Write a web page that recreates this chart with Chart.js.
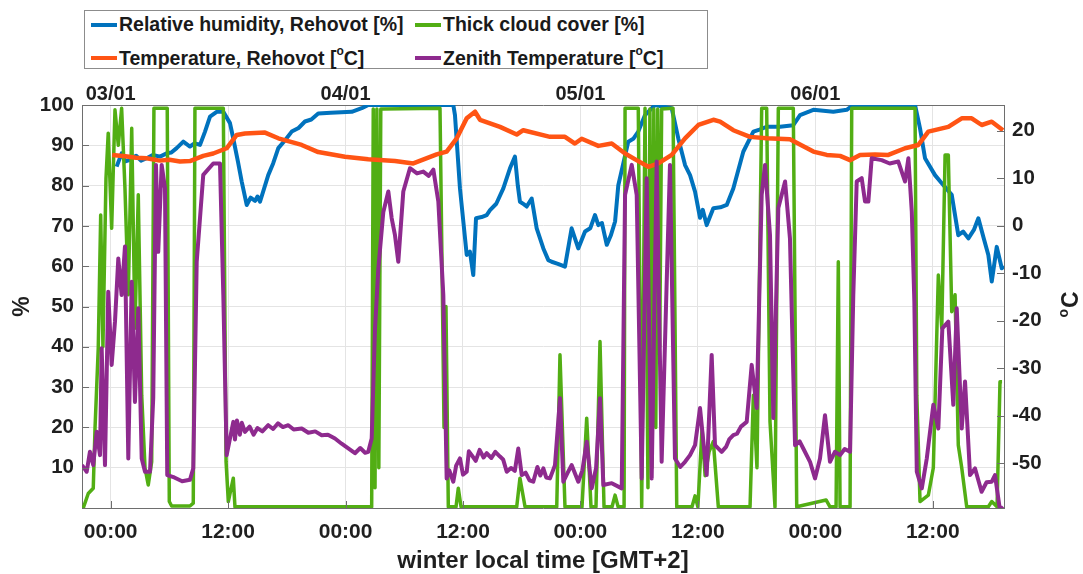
<!DOCTYPE html>
<html lang="en">
<head>
<meta charset="UTF-8">
<title>Relative humidity, cloud cover and temperature - Rehovot</title>
<script src="https://cdn.jsdelivr.net/npm/chart.js"></script>
<style>
  html, body { margin: 0; padding: 0; background: #fff; }
  #wrap { position: relative; width: 1083px; height: 574px; }
  #legend {
    position: absolute; left: 84px; top: 10px; width: 622px; height: 57px;
    border: 1px solid #8c8c8c; background: #fff;
    font: bold 19.5px "Liberation Sans", Arial, sans-serif; color: #1a1a1a;
  }
  .item { position: absolute; display: flex; align-items: center; white-space: nowrap; line-height: 1; }
  .swatch { display: inline-block; width: 26px; height: 4px; margin-right: 2px; }
  .item sup { font-size: 12px; position: relative; top: -2px; }
</style>
</head>
<body>
<div id="wrap">
  <canvas id="chart" width="1083" height="574"></canvas>
  <div id="legend"></div>
</div>

<script>
  // hours counted from 03/01 00:00 (GMT+2)
  const xTickHours = [0, 12, 24, 36, 48, 60, 72, 84];
  const xTickLabels = ["00:00", "12:00", "00:00", "12:00", "00:00", "12:00", "00:00", "12:00"];
  const dayHours = [0, 24, 48, 72];
  const dayLabels = ["03/01", "04/01", "05/01", "06/01"];
  const pctTicks = [10, 20, 30, 40, 50, 60, 70, 80, 90, 100];
  const degTicks = [-50, -40, -30, -20, -10, 0, 10, 20];

  // [hour, %]
  const humidity = [
    [0.61,84.7],[1.12,88.0],[1.5,86.0],[1.97,86.4],[2.6,87.4],[3.1,86.2],[3.68,86.8],[4.3,87.6],[5.04,87.2],
    [5.72,88.0],[6.2,88.2],[6.74,89.3],[7.42,90.9],[8.10,89.7],[8.6,90.5],[9.13,90.1],[9.64,93.4],
    [10.15,97.1],[10.83,98.3],[11.51,98.3],[12.19,95.5],[12.5,92],[13.0,86],[13.39,81.0],[13.90,75.2],
    [14.3,77.0],[14.75,76.2],[15.0,77.3],[15.26,76.0],[16.10,82.6],[16.6,85.5],[17.13,89.3],[17.8,91.2],
    [18.50,93.4],[19.2,94.3],[19.85,95.9],[20.5,96.4],[21.21,97.9],[22.5,98.1],[24.63,98.3],[25.65,99.2],
    [26.32,100],[35.01,100],[35.18,97.5],[35.69,79.3],[36.38,62.8],[36.71,63.6],[37.05,57.8],[37.33,71.9],
    [37.9,72.2],[38.42,72.7],[38.76,73.9],[39.4,75.5],[40.12,79.3],[40.80,84.3],[41.31,87.2],[41.6,80.0],
    [41.82,76.0],[42.2,75.4],[42.51,74.8],[43.02,76.8],[43.53,69.4],[44.21,64.4],[44.72,61.5],[45.06,61.1],
    [45.7,60.6],[46.42,59.9],[47.10,69.4],[47.78,64.4],[48.47,68.6],[49.0,69.4],[49.49,72.7],[49.83,70.2],
    [50.2,70.7],[50.69,65.3],[51.1,67.6],[51.54,71.1],[51.87,80.1],[52.89,90.9],[53.4,91.6],[53.91,93.4],
    [54.60,97.5],[55.62,100],[57.33,99.2],[58.00,91.7],[58.69,85.1],[59.2,82.6],[59.71,78.5],[60.22,72],
    [60.5,74.0],[60.90,70.2],[61.58,74.4],[62.3,74.6],[62.95,75.2],[63.62,79.3],[64.64,88.4],[65.67,93.4],
    [66.3,93.9],[67.03,94.6],[68.4,94.6],[69.75,95.0],[70.44,97.5],[71.80,98.8],[73.84,98.3],[75.21,98.8],
    [75.88,100],[82.19,100],[82.70,94.2],[83.21,86.8],[84.23,82.6],[84.92,80.6],[85.94,77.7],[86.61,67.7],
    [87.1,68.6],[87.64,66.9],[88.2,69.0],[88.66,71.9],[89.2,67.0],[89.68,62.8],[90.03,56.2],[90.54,64.8],
    [91.05,59.5],[91.28,60]
  ];

  // [hour, %]
  const cloudCover = [
    [-2.80,0],[-2.29,3.6],[-1.78,4.9],[-1.60,19.8],[-1.27,39.6],[-1.02,72.7],[-0.79,40],[-0.48,81.8],
    [-0.25,93.0],[0.10,69.4],[0.44,98.8],[0.78,90],[1.12,99.2],[1.46,79.3],[1.80,52.9],[2.15,94.2],
    [2.48,44.6],[2.82,77.7],[3.17,28.0],[3.51,9.9],[3.84,5.7],[4.19,11.5],[4.42,99.2],[5.78,99.2],
    [5.99,1.6],[6.23,0.5],[8.10,0.5],[8.44,1.2],[8.61,99.2],[11.51,99.2],[11.79,11.5],[12.02,1.6],
    [12.53,7.4],[12.70,0.3],[26.67,0.3],[26.83,99],[27.01,5],[27.2,99],[27.4,10],[27.6,99],[27.8,99],
    [33.65,99.2],[33.86,60],[34.06,20],[34.26,50],[34.50,0.3],[35.29,0.3],[35.52,4.9],[35.80,0.3],
    [41.49,0.3],[41.82,7.4],[42.34,0.3],[45.58,0.3],[45.91,38.0],[46.42,0.3],[48.16,0.3],[48.64,22.3],
    [49.08,0.3],[49.59,0.3],[50.00,41.3],[50.41,0.3],[51.23,0.3],[51.54,3.2],[51.85,0.3],[52.46,0.3],
    [52.56,99.2],[53.91,99.2],[54.26,0.3],[54.60,99.2],[54.9,5],[55.1,99],[55.3,10],[55.5,99],[55.7,20],
    [55.9,99],[56.1,40],[56.3,99],[57.46,99.2],[57.84,0.3],[59.40,0.3],[59.71,3],[60.0,0.3],[60.43,19.8],
    [60.74,8],[61.15,14],[61.58,16.5],[62.09,0.3],[65.33,0.3],[65.67,28.0],[66.04,10],[66.52,99.2],
    [67.03,99.2],[67.37,21.4],[67.88,0.3],[68.22,99.2],[69.75,99.2],[70.10,0.3],[73.1,2],[73.5,0.3],
    [74.12,0.3],[74.35,61.1],[74.53,0.3],[75.55,0.3],[75.72,99.2],[82.19,99.2],[82.37,28.0],[82.70,1.6],
    [83.55,3.2],[84.06,10],[84.57,57.8],[84.92,44.6],[85.26,87.6],[85.59,87.6],[85.94,48.7],[86.28,52.9],
    [86.61,15.6],[86.96,10],[87.47,0.3],[89.68,0.3],[90.03,1.6],[90.57,0.3],[90.87,31.3],[91.08,31.3]
  ];

  // [hour, degC]
  const airTemp = [
    [0.16,14.9],[1.5,14.6],[2.6,14.3],[3.68,14.2],[5.0,13.7],[6.0,13.9],[7.08,13.5],[8.10,13.6],[9.46,14.7],
    [10.48,15.2],[11.85,16.3],[12.88,19.1],[13.72,19.4],[15.77,19.6],[17.13,18.4],[19.52,17.0],[21.21,15.5],
    [23.94,14.5],[26.32,14.0],[29.05,13.6],[30.92,13.1],[33.31,15.0],[34.33,15.6],[35.36,18.4],[36.38,22.6],
    [37.23,24.0],[37.74,22.3],[39.78,20.8],[41.49,19.2],[42.16,20.1],[44.89,18.7],[46.42,18.7],[47.44,17.3],
    [48.13,18.3],[49.83,16.8],[51.20,17.3],[52.56,15.2],[53.91,13.6],[54.94,12.4],[55.96,13.1],[57.33,14.9],
    [58.69,18.4],[60.05,21.2],[61.58,22.3],[62.27,21.9],[63.62,20.1],[65.33,18.7],[67.03,18.4],[69.41,18.2],
    [71.80,15.6],[73.17,14.9],[74.53,14.7],[75.55,13.8],[76.57,14.9],[78.10,15.0],[79.46,14.9],[81.17,16.3],
    [82.53,17.0],[83.55,19.8],[85.59,20.8],[86.96,22.6],[87.98,22.6],[89.00,21.2],[90.03,21.9],[91.18,20.1]
  ];

  // [hour, degC]
  const zenithTemp = [
    [-2.93,-50.4],[-2.45,-51.8],[-2.12,-47.6],[-1.78,-50.4],[-1.43,-43.4],[-1.09,-48.3],[-0.92,-25.8],
    [-0.58,-50.4],[-0.25,-13.9],[0.10,-29.3],[0.44,-20.2],[0.78,-6.9],[1.12,-14.6],[1.46,-4.4],[1.80,-49.0],
    [2.15,-11.8],[2.48,-37.1],[2.82,-17.4],[3.17,-49.0],[3.51,-51.8],[4.02,-51.8],[4.35,-36.2],[4.63,12.8],
    [4.86,-5.5],[5.21,12.8],[5.55,7.9],[5.78,-52.5],[6.5,-53.0],[7.3,-53.8],[8.10,-53.5],[8.44,-51.1],
    [8.79,-7.6],[9.46,10.7],[10.48,13.1],[11.17,13.1],[11.51,-14.6],[11.85,-48.3],[12.53,-41.3],[12.7,-45],
    [12.9,-41],[13.2,-44],[13.4,-41.5],[13.72,-43.4],[14.2,-42.3],[14.6,-44.0],[15.0,-42.6],[15.5,-43.3],
    [16.1,-42.0],[16.6,-42.8],[17.1,-41.6],[17.6,-42.4],[18.15,-42.0],[18.7,-42.9],[19.52,-42.7],[20.2,-43.6],
    [20.9,-43.3],[21.56,-44.1],[22.2,-44.0],[22.92,-44.8],[23.6,-45.9],[24.28,-46.9],[24.96,-47.9],[25.5,-46.8],
    [26.0,-47.8],[26.32,-47.6],[26.67,-44.8],[27.01,-21.6],[27.35,-9.0],[27.86,2.9],[28.37,7.2],[28.71,1.6],
    [29.05,-2.0],[29.39,-7.6],[29.90,7.2],[30.58,12.1],[31.3,11.0],[31.94,11.4],[32.5,10.5],[32.97,11.8],
    [33.48,5.1],[33.99,-14.6],[34.33,-53.2],[34.6,-51.5],[35.01,-53.9],[35.3,-50.5],[35.69,-49.0],[36.0,-52.4],
    [36.38,-51.8],[36.6,-47.5],[36.89,-48.3],[37.3,-49.5],[37.7,-47.2],[38.1,-48.8],[38.42,-47.9],[38.9,-48.9],
    [39.3,-47.6],[39.78,-48.6],[40.1,-49.2],[40.47,-51.8],[40.9,-51.0],[41.3,-51.6],[41.65,-46.9],[42.00,-52.5],
    [42.4,-52.0],[42.8,-53.6],[43.18,-53.9],[43.6,-50.8],[43.9,-52.6],[44.21,-51.1],[44.5,-53.0],[44.89,-53.2],
    [45.40,-50.4],[45.91,-36.3],[46.25,-53.9],[46.7,-52.0],[47.10,-50.4],[47.78,-53.9],[48.2,-51.5],
    [48.64,-45.5],[49.15,-55.3],[49.6,-51.0],[50.00,-36.3],[50.34,-54.6],[51.2,-54.2],[52.22,-55.3],
    [52.56,6.5],[53.24,12.8],[53.75,6.5],[54.26,-53.2],[54.77,10.0],[55.28,-53.2],[55.79,13.5],[56.30,-49.7],
    [57.15,12.8],[57.66,-49.0],[58.2,-50.8],[58.69,-49.7],[59.2,-48.3],[59.71,-46.2],[60.22,-38.4],
    [60.90,-52.5],[61.41,-27.2],[61.75,-46.2],[62.43,-47.6],[62.9,-46.5],[63.2,-45.0],[63.62,-44.1],
    [64.0,-43.8],[64.4,-42.3],[64.99,-41.3],[65.50,-29.3],[66.01,-38.4],[66.52,6.5],[66.86,12.8],[67.37,-2.0],
    [67.71,-40.5],[68.22,3.7],[68.91,9.3],[69.41,-2.7],[69.93,-46.2],[70.4,-45.4],[70.77,-46.9],[71.46,-49.7],
    [71.97,-53.2],[72.48,-49.0],[72.99,-39.9],[73.50,-49.7],[74.0,-47.6],[74.53,-48.3],[75.0,-47.0],
    [75.55,-47.6],[75.88,-14.6],[76.23,9.3],[76.74,10.0],[77.08,5.1],[77.42,5.1],[77.76,14.2],[78.78,13.8],
    [79.6,13.1],[80.48,13.5],[81.17,9.3],[81.51,14.2],[81.86,2.9],[82.12,-16.0],[82.37,-51.8],[82.88,-55.3],
    [83.39,-49.0],[84.06,-37.7],[84.57,-42.7],[84.98,-21.6],[85.59,-20.2],[86.10,-37.7],[86.45,-17.4],
    [86.96,-42.7],[87.30,-32.8],[87.81,-52.5],[88.32,-51.1],[88.99,-56.0],[89.5,-54.0],[90.03,-53.9],
    [90.36,-52.5],[90.87,-59.9],[91.21,-59.2]
  ];

  const FONT = '"Liberation Sans", Arial, Helvetica, sans-serif';
  const INK = "#1f1f1f";
  const BOX = "#6e6e6e";
  const GRID = "#e4e4e4";

  const series = [
    { label: "Relative humidity, Rehovot [%]", data: humidity, axis: "y", color: "#0072BD", width: 4, order: 4 },
    { label: "Thick cloud cover [%]", data: cloudCover, axis: "y", color: "#52AE14", width: 3.5, order: 3 },
    { label: "Temperature, Rehovot [oC]", data: airTemp, axis: "y1", color: "#FF5414", width: 4.5, order: 2 },
    { label: "Zenith Temperature [oC]", data: zenithTemp, axis: "y1", color: "#8E2A8E", width: 4, order: 1 }
  ];

  const toXY = pairs => pairs.map(p => ({ x: p[0], y: p[1] }));

  function fixTicks(values) {
    return scale => { scale.ticks = values.map(v => ({ value: v })); };
  }

  // right axis title: raised "o" before the C, reading bottom to top
  const rightTitle = {
    id: "rightTitle",
    afterDraw(chart) {
      const ctx = chart.ctx;
      ctx.save();
      ctx.translate(1078, 305);
      ctx.rotate(-Math.PI / 2);
      ctx.fillStyle = INK;
      ctx.textBaseline = "alphabetic";
      ctx.font = "bold 14px " + FONT;
      const ow = ctx.measureText("o").width;
      ctx.font = "bold 23px " + FONT;
      const cw = ctx.measureText("C").width;
      const x0 = -(ow + cw) / 2;
      ctx.font = "bold 14px " + FONT;
      ctx.fillText("o", x0, -10);
      ctx.font = "bold 23px " + FONT;
      ctx.fillText("C", x0 + ow + 1, 0);
      ctx.restore();
    }
  };

  // short tick marks pointing into the plot, as in the original
  const innerTicks = {
    id: "innerTicks",
    afterDatasetsDraw(chart) {
      const { ctx, chartArea: a, scales } = chart;
      const len = 7;
      ctx.save();
      ctx.strokeStyle = BOX;
      ctx.lineWidth = 1;
      ctx.beginPath();
      pctTicks.forEach(v => {
        const y = Math.round(scales.y.getPixelForValue(v)) + 0.5;
        ctx.moveTo(a.left, y); ctx.lineTo(a.left + len, y);
      });
      degTicks.forEach(v => {
        const y = Math.round(scales.y1.getPixelForValue(v)) + 0.5;
        ctx.moveTo(a.right, y); ctx.lineTo(a.right - len, y);
      });
      xTickHours.forEach(v => {
        const x = Math.round(scales.x.getPixelForValue(v)) + 0.5;
        ctx.moveTo(x, a.bottom); ctx.lineTo(x, a.bottom - len);
      });
      ctx.stroke();
      ctx.restore();
    }
  };

  new Chart(document.getElementById("chart"), {
    type: "line",
    data: {
      datasets: series.map(s => ({
        label: s.label,
        data: toXY(s.data),
        yAxisID: s.axis,
        xAxisID: "x",
        borderColor: s.color,
        backgroundColor: s.color,
        borderWidth: s.width,
        pointRadius: 0,
        tension: 0,
        borderJoinStyle: "round",
        order: s.order
      }))
    },
    options: {
      responsive: false,
      animation: false,
      layout: { padding: 0 },
      plugins: { legend: { display: false }, tooltip: { enabled: false } },
      scales: {
        x: {
          type: "linear", position: "bottom", min: -2.93, max: 91.28,
          afterBuildTicks: fixTicks(xTickHours),
          afterFit: s => { s.height = 66; },
          grid: { color: GRID, drawTicks: false },
          border: { color: BOX, width: 1 },
          ticks: {
            padding: 12, color: INK, font: { family: FONT, size: 21, weight: "bold" },
            callback: v => xTickLabels[xTickHours.indexOf(v)]
          },
          title: {
            display: true, text: "winter local time [GMT+2]", color: INK,
            font: { family: FONT, size: 24, weight: "bold" }, padding: { top: 0, bottom: -2 }
          }
        },
        x2: {
          type: "linear", position: "top", min: -2.93, max: 91.28,
          afterBuildTicks: fixTicks(dayHours),
          afterFit: s => { s.height = 105; },
          grid: { display: false, drawTicks: false },
          border: { color: BOX, width: 1 },
          ticks: {
            padding: -1, color: INK, font: { family: FONT, size: 20, weight: "bold" },
            callback: v => dayLabels[dayHours.indexOf(v)]
          }
        },
        y: {
          type: "linear", position: "left", min: 0, max: 100,
          afterBuildTicks: fixTicks(pctTicks),
          afterFit: s => { s.width = 82; },
          grid: { color: GRID, drawTicks: false },
          border: { color: BOX, width: 1 },
          ticks: { padding: 8, color: INK, font: { family: FONT, size: 20.5, weight: "bold" } },
          title: {
            display: true, text: "%", color: INK,
            font: { family: FONT, size: 23, weight: "bold" }, padding: { top: 9, bottom: 0 }
          }
        },
        y1: {
          type: "linear", position: "right", min: -59.43, max: 25.41,
          afterBuildTicks: fixTicks(degTicks),
          afterFit: s => { s.width = 79; },
          grid: { drawOnChartArea: false, drawTicks: false },
          border: { color: BOX, width: 1 },
          ticks: { padding: 8, color: INK, font: { family: FONT, size: 20.5, weight: "bold" } }
        }
      }
    },
    plugins: [rightTitle, innerTicks]
  });

  // legend box, two columns like the original
  const legendPos = [
    { left: 6, top: 14 }, { left: 330, top: 14 },
    { left: 6, top: 46 }, { left: 330, top: 46 }
  ];
  const legend = document.getElementById("legend");
  series.forEach((s, i) => {
    const el = document.createElement("div");
    el.className = "item";
    el.style.left = legendPos[i].left + "px";
    el.style.top = (legendPos[i].top - 10) + "px";
    const sw = document.createElement("span");
    sw.className = "swatch";
    sw.style.background = s.color;
    const txt = document.createElement("span");
    const parts = s.label.split("[oC]");
    txt.textContent = parts[0];
    if (parts.length > 1) {
      txt.append("[");
      const sup = document.createElement("sup");
      sup.textContent = "o";
      txt.append(sup, "C]");
    }
    el.append(sw, txt);
    legend.appendChild(el);
  });
</script>
</body>
</html>
